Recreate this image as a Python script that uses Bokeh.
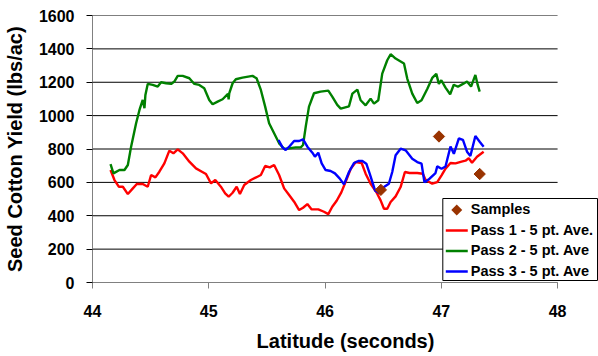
import numpy as np
from bokeh.plotting import figure
from bokeh.models import Range1d, FixedTicker, BoxAnnotation, PolyAnnotation, Label
from bokeh.embed import file_html
from bokeh.resources import INLINE

# ---- data ----
pass1_lat = [44.155, 44.189, 44.226, 44.261, 44.304, 44.347, 44.381, 44.432, 44.475, 44.504,
             44.541, 44.575, 44.618, 44.661, 44.696, 44.733, 44.776, 44.833, 44.890, 44.941,
             44.976, 45.019, 45.056, 45.104, 45.141, 45.171, 45.205, 45.240, 45.268, 45.305,
             45.362, 45.419, 45.448, 45.485, 45.525, 45.562, 45.605, 45.648, 45.691, 45.734,
             45.777, 45.811, 45.848, 45.885, 45.942, 45.991, 46.028, 46.062, 46.100, 46.140,
             46.178, 46.221, 46.264, 46.315, 46.349, 46.392, 46.441, 46.478, 46.507, 46.535,
             46.564, 46.607, 46.650, 46.687, 46.727, 46.793, 46.841, 46.864, 46.922, 46.965,
             47.002, 47.036, 47.079, 47.122, 47.174, 47.208, 47.236, 47.264, 47.307, 47.364]
pass1_yield = [674, 614, 574, 574, 530, 564, 590, 590, 574, 644,
               630, 664, 714, 790, 774, 798, 774, 724, 684, 664,
               650, 594, 614, 574, 534, 514, 538, 574, 530, 584,
               614, 634, 644, 698, 690, 704, 644, 564, 524, 484,
               434, 448, 470, 438, 438, 424, 410, 454, 490, 540,
               605, 682, 722, 716, 652, 592, 542, 492, 442, 442,
               482, 516, 572, 662, 656, 656, 652, 616, 592, 602,
               642, 682, 716, 714, 724, 730, 744, 718, 754, 784]

pass2_lat = [44.155, 44.180, 44.232, 44.275, 44.304, 44.332, 44.375, 44.404, 44.432, 44.447,
             44.455, 44.475, 44.518, 44.561, 44.590, 44.633, 44.676, 44.704, 44.733, 44.776,
             44.833, 44.876, 44.918, 44.961, 45.004, 45.033, 45.076, 45.119, 45.165, 45.171,
             45.176, 45.205, 45.233, 45.290, 45.376, 45.411, 45.448, 45.485, 45.519, 45.562,
             45.605, 45.650, 45.748, 45.791, 45.811, 45.834, 45.862, 45.905, 45.962, 46.028,
             46.062, 46.105, 46.135, 46.206, 46.235, 46.278, 46.306, 46.349, 46.392, 46.421,
             46.458, 46.492, 46.535, 46.564, 46.607, 46.679, 46.707, 46.750, 46.793, 46.830,
             46.879, 46.922, 46.957, 46.979, 47.000, 47.036, 47.076, 47.107, 47.143, 47.194,
             47.221, 47.256, 47.293, 47.313, 47.330]
pass2_yield = [710, 654, 674, 674, 704, 814, 954, 1034, 1094, 1044,
               1124, 1190, 1184, 1174, 1200, 1194, 1190, 1204, 1238, 1238,
               1224, 1190, 1184, 1164, 1094, 1068, 1084, 1098, 1130, 1098,
               1134, 1194, 1218, 1228, 1238, 1224, 1154, 1054, 954, 894,
               834, 800, 810, 810, 824, 934, 1054, 1134, 1144, 1150,
               1114, 1064, 1042, 1056, 1132, 1156, 1092, 1062, 1102, 1072,
               1092, 1252, 1332, 1368, 1342, 1312, 1222, 1132, 1076, 1092,
               1160, 1226, 1250, 1190, 1212, 1168, 1128, 1185, 1173, 1193,
               1204, 1174, 1244, 1184, 1144]

pass3_lat = [45.600, 45.634, 45.662, 45.697, 45.734, 45.777, 45.811, 45.848, 45.891, 45.913,
             45.942, 45.971, 46.005, 46.048, 46.085, 46.125, 46.163, 46.206, 46.249, 46.286,
             46.321, 46.355, 46.384, 46.430, 46.464, 46.507, 46.549, 46.578, 46.607, 46.650,
             46.693, 46.750, 46.793, 46.830, 46.855, 46.899, 46.950, 46.965, 47.002, 47.036,
             47.079, 47.108, 47.151, 47.186, 47.221, 47.250, 47.293, 47.330, 47.364]
pass3_yield = [854, 810, 794, 818, 848, 848, 858, 814, 778, 754,
               778, 714, 674, 668, 654, 624, 588, 662, 716, 728,
               728, 712, 652, 552, 536, 572, 592, 662, 762, 802,
               792, 742, 722, 712, 600, 622, 656, 696, 682, 695,
               815, 771, 863, 855, 784, 758, 878, 844, 814]

sample_lat = [46.48, 46.98, 47.33]
sample_yield = [555, 875, 650]

x_ticks = [44, 45, 46, 47, 48]
y_ticks = [0, 200, 400, 600, 800, 1000, 1200, 1400, 1600]

legend_labels = ["Samples", "Pass 1 - 5 pt. Ave.", "Pass 2 - 5 pt. Ave", "Pass 3 - 5 pt. Ave"]
colors = {"samples": "#993300", "p1": "#FF0000", "p2": "#008000", "p3": "#0000FF"}

# ---- layout (pixels) ----
W, H = 598, 356
FRAME_L, FRAME_T, FRAME_B = 91, 15, 282
PX_PER_X = 116.5            # pixels per latitude second
PX_PER_Y = (FRAME_B - FRAME_T) / (y_ticks[-1] - y_ticks[0])
X0 = x_ticks[0]
X_END = X0 + (W - FRAME_L) / PX_PER_X   # frame reaches the right edge (legend room)


def sx(px):
    return X0 + (px - FRAME_L) / PX_PER_X


def sy(py):
    return (FRAME_B - py) / PX_PER_Y


FONT = "Liberation Sans"
LW = 2.4

p = figure(width=W, height=H, output_backend="svg", toolbar_location=None,
           x_range=Range1d(X0, X_END), y_range=Range1d(y_ticks[0], y_ticks[-1]),
           min_border_left=FRAME_L, min_border_right=0, min_border_top=FRAME_T,
           min_border_bottom=H - FRAME_B)
p.outline_line_color = None
p.background_fill_color = "white"
p.border_fill_color = "white"
p.xgrid.grid_line_color = None
p.ygrid.grid_line_color = None

# horizontal gridlines spanning 44..48 only
p.segment(x0=x_ticks[0], x1=x_ticks[-1], y0=y_ticks, y1=y_ticks,
          line_color="black", line_width=1)

p.xaxis.ticker = FixedTicker(ticks=x_ticks)
p.yaxis.ticker = FixedTicker(ticks=y_ticks)
p.xaxis.bounds = (x_ticks[0], x_ticks[-1])
for ax in (p.xaxis, p.yaxis):
    ax.axis_line_color = "#808080"
    ax.major_tick_line_color = "#808080"
    ax.minor_tick_line_color = None
    ax.major_tick_in = 0
    ax.major_tick_out = 6
    ax.major_label_text_font = FONT
    ax.major_label_text_font_style = "bold"
    ax.major_label_text_font_size = "16px"
    ax.major_label_text_color = "black"
    ax.axis_label_text_font = FONT
    ax.axis_label_text_font_style = "bold"
    ax.axis_label_text_font_size = "20px"
    ax.axis_label_text_color = "black"

p.xaxis.axis_label = "Latitude (seconds)"
p.yaxis.axis_label = "Seed Cotton Yield (lbs/ac)"
p.yaxis.major_tick_line_color = "black"
p.xaxis.major_label_standoff = 16
p.yaxis.major_label_standoff = 12
p.xaxis.axis_label_standoff = 10
p.yaxis.axis_label_standoff = 10

p.line(pass1_lat, pass1_yield, line_color=colors["p1"], line_width=LW)
p.line(pass2_lat, pass2_yield, line_color=colors["p2"], line_width=LW)
p.line(pass3_lat, pass3_yield, line_color=colors["p3"], line_width=LW)
p.scatter(sample_lat, sample_yield, marker="square", angle=np.pi / 4, size=8,
          fill_color=colors["samples"], line_color=colors["samples"])

# ---- legend (drawn as annotations so it can overhang the axis end) ----
LEG_L, LEG_R, LEG_T, LEG_B = 442, 597, 198, 280
ROWS = [209.5, 230, 250.5, 271]
GL0, GL1, TXT = 445, 467, 470

p.add_layout(BoxAnnotation(left=sx(LEG_L), right=sx(LEG_R), top=sy(LEG_T), bottom=sy(LEG_B),
                           fill_color="white", fill_alpha=1, line_color="black",
                           line_width=1, line_alpha=1))
cx = (GL0 + GL1) / 2
p.add_layout(PolyAnnotation(xs=[sx(cx - 5.5), sx(cx), sx(cx + 5.5), sx(cx)],
                            ys=[sy(ROWS[0]), sy(ROWS[0] - 5.5), sy(ROWS[0]), sy(ROWS[0] + 5.5)],
                            fill_color=colors["samples"], fill_alpha=1, line_color=None))
for row, key in zip(ROWS[1:], ["p1", "p2", "p3"]):
    p.add_layout(BoxAnnotation(left=sx(GL0), right=sx(GL1), top=sy(row - 1.2), bottom=sy(row + 1.2),
                               fill_color=colors[key], fill_alpha=1, line_color=None))
for row, lab in zip(ROWS, legend_labels):
    p.add_layout(Label(x=sx(TXT), y=sy(row - 1), text=lab, text_baseline="middle",
                       text_font=FONT, text_font_style="bold", text_font_size="14.5px",
                       text_color="black"))

open("out.html", "w").write(file_html(p, INLINE))
